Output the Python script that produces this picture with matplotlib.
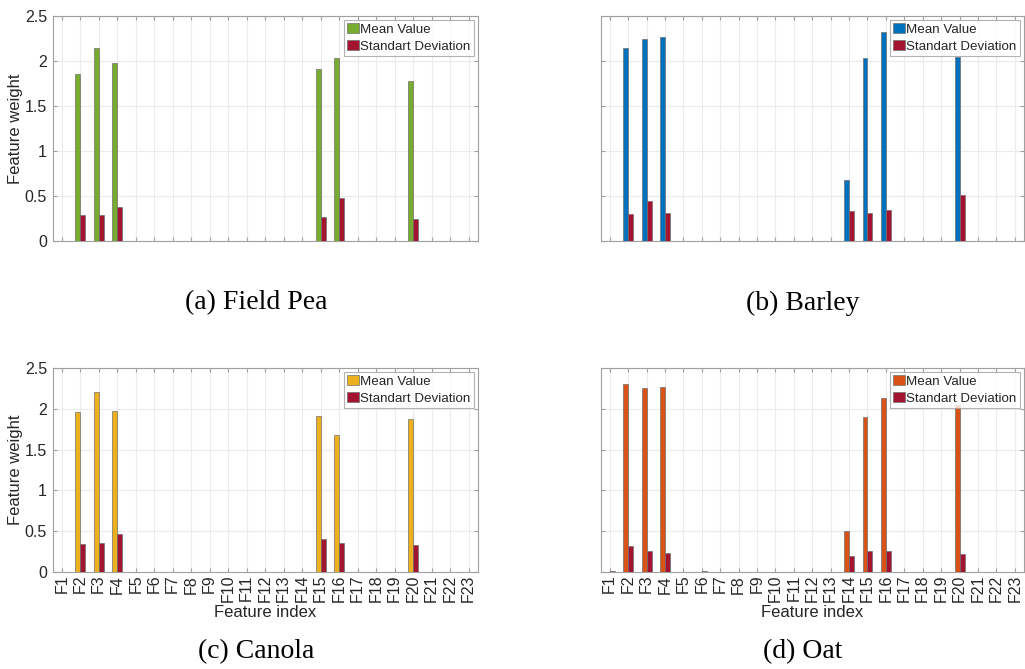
import numpy as np
import matplotlib.pyplot as plt

features = ['F%d' % i for i in range(1, 24)]

# mean / std per feature (index 0 = F1)
pea_mean = np.zeros(23)
pea_std = np.zeros(23)
pea_mean[[1, 2, 3, 14, 15, 19]] = [1.86, 2.15, 1.98, 1.91, 2.03, 1.78]
pea_std[[1, 2, 3, 14, 15, 19]] = [0.29, 0.29, 0.38, 0.27, 0.48, 0.25]

barley_mean = np.zeros(23)
barley_std = np.zeros(23)
barley_mean[[1, 2, 3, 13, 14, 15, 19]] = [2.15, 2.24, 2.27, 0.68, 2.03, 2.32, 2.04]
barley_std[[1, 2, 3, 13, 14, 15, 19]] = [0.30, 0.45, 0.31, 0.33, 0.31, 0.35, 0.51]

canola_mean = np.zeros(23)
canola_std = np.zeros(23)
canola_mean[[1, 2, 3, 14, 15, 19]] = [1.96, 2.21, 1.97, 1.91, 1.68, 1.87]
canola_std[[1, 2, 3, 14, 15, 19]] = [0.34, 0.35, 0.47, 0.40, 0.36, 0.33]

oat_mean = np.zeros(23)
oat_std = np.zeros(23)
oat_mean[[1, 2, 3, 13, 14, 15, 19]] = [2.30, 2.25, 2.27, 0.50, 1.90, 2.13, 2.05]
oat_std[[0, 1, 2, 3, 5, 13, 14, 15, 19, 21, 22]] = [0.01, 0.32, 0.26, 0.23, 0.01, 0.19, 0.26, 0.26, 0.22, 0.005, 0.005]

panels = [
    ('(a) Field Pea', pea_mean, pea_std, '#77AC30'),
    ('(b) Barley', barley_mean, barley_std, '#0072BD'),
    ('(c) Canola', canola_mean, canola_std, '#EDB120'),
    ('(d) Oat', oat_mean, oat_std, '#D95319'),
]
std_color = '#A2142F'

W, H = 1025, 669
fig = plt.figure(figsize=(W / 100, H / 100), dpi=100)
plt.rcParams['font.family'] = ['Liberation Sans', 'DejaVu Sans']

# axes boxes in pixels: left, top, right, bottom
boxes = [(52.5, 16, 478, 241), (600.5, 16, 1024, 241),
         (52.5, 368, 478, 572), (600.5, 368, 1024, 572)]
caption_pos = [(256, 303), (803, 303), (256, 652), (803, 652)]

x = np.arange(1, 24)
w = 0.27
for i, (title, mean, std, col) in enumerate(panels):
    l, t, r, b = boxes[i]
    ax = fig.add_axes([l / W, 1 - b / H, (r - l) / W, (b - t) / H])
    ax.bar(x - w / 2, mean, w, color=col, edgecolor='#707070', linewidth=0.5,
           label='Mean Value', zorder=3)
    ax.bar(x + w / 2, std, w, color=std_color, edgecolor='#707070', linewidth=0.5,
           label='Standart Deviation', zorder=3)
    ax.set_xlim(0.5, 23.5)
    ax.set_ylim(0, 2.5)
    ax.set_yticks([0, 0.5, 1, 1.5, 2, 2.5])
    ax.set_yticklabels(['0', '0.5', '1', '1.5', '2', '2.5'])
    ax.set_xticks(x)
    ax.grid(True, color='#ebebeb', linewidth=0.8, zorder=0)
    for s in ax.spines.values():
        s.set_color('#a0a0a0')
        s.set_linewidth(0.8)
    ax.tick_params(direction='in', length=3, color='#a0a0a0', labelsize=11.5,
                   labelcolor='#262626', top=True, right=True, pad=4)
    ax.tick_params(axis='x', labelsize=11.5, pad=2)
    if i >= 2:
        ax.set_xticklabels(features, rotation=90)
        ax.set_xlabel('Feature index', fontsize=12, color='#262626', labelpad=2)
    else:
        ax.set_xticklabels([])
    if i % 2 == 0:
        ax.set_ylabel('Feature weight', fontsize=12, color='#262626', labelpad=1)
    else:
        ax.set_yticklabels([])
    leg = ax.legend(loc='upper right', fontsize=9.6, frameon=True, fancybox=False,
                    handlelength=0.9, handleheight=0.7, handletextpad=0.1,
                    borderpad=0.25, labelspacing=0.35, borderaxespad=0.3)
    leg.get_frame().set_edgecolor('#a0a0a0')
    leg.get_frame().set_linewidth(0.8)
    for txt in leg.get_texts():
        txt.set_color('#262626')
    cx, cy = caption_pos[i]
    fig.text(cx / W, 1 - cy / H, title, ha='center', va='center',
             fontsize=20, family='Liberation Serif')

fig.savefig('out.png', dpi=100)
